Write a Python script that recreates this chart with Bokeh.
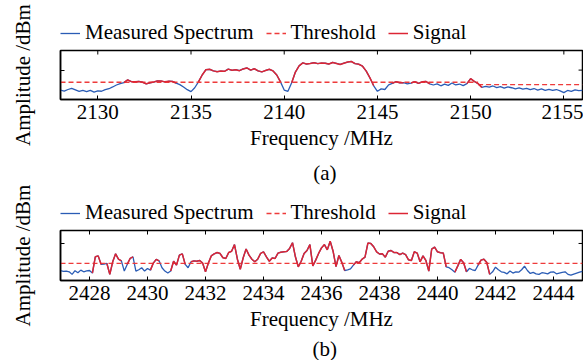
import math
import numpy as np
from bokeh.plotting import figure
from bokeh.models import (Legend, LegendItem, FixedTicker, Range1d, Label)
from bokeh.layouts import column, row
from bokeh.embed import file_html
from bokeh.resources import INLINE

FONT = "Liberation Serif"
FS = "21px"
BLUE = "#2a5cb5"
RED = "#dc2534"
THR_RED = "#ee3b3b"
TICK_LEN = 4
LABEL_W = 40          # width of the strip holding the y labels
MAIN_W = 543          # width of the right-hand column
MAIN_LEFT = 12        # left border of the main figures
FRAME_W = MAIN_W - MAIN_LEFT - 1
TOTAL_H = 360

# ---------------- panel (a) data ----------------
freq_a_limits = (2128.0, 2156.0)
spec_a = [
    -90.2, -90.7, -89.9, -89.3, -90.1, -90.9, -90.4, -91.0, -90.3, -91.2, -90.6, -90.8, -90.0,
    -89.5, -88.6, -87.6, -86.9, -86.4, -85.0, -85.9, -86.0,
    -85.8, -86.2, -87.0, -86.5, -86.1, -85.5, -85.6, -86.0, -85.7, -85.8,
    -86.6, -87.4, -88.6, -90.0, -91.0, -89.0, -86.0, -82.5, -79.8, -79.6,
    -80.4, -80.8, -80.5, -80.6, -79.5, -80.1, -79.8, -80.3, -79.4, -78.9,
    -80.0, -79.3, -80.4, -80.9, -80.2, -79.6, -80.4, -82.5, -86.0, -90.2,
    -90.8, -86.5, -81.0, -77.8, -76.3, -76.9, -76.6, -76.2, -76.7, -76.4,
    -76.5, -76.9, -76.1, -76.6, -77.1, -76.5, -75.9, -75.6, -76.7, -77.0,
    -78.0, -80.5, -84.0, -88.0, -90.8, -89.6, -89.9, -87.5, -86.8, -85.9,
    -86.5, -86.4, -87.0, -86.6, -85.9, -86.8, -86.0, -85.8, -87.0, -87.6,
    -87.0, -88.0, -87.2, -87.8, -86.6, -87.6, -87.1, -87.9, -86.9, -84.4,
    -85.8, -86.9, -88.8, -88.3, -88.7, -88.1, -88.9, -88.4, -89.2, -88.6,
    -89.0, -89.6, -89.1, -89.7, -89.3, -90.0, -89.4, -90.2, -89.6, -90.3,
    -89.8, -90.4, -89.9, -90.6, -91.5, -90.4, -90.9, -90.1, -90.5, -90.3,
]
thr_a_freq = [[2128.0, 2150.4], [2150.4, 2156.0]]
thr_a_val = [[-86.2, -86.2], [-87.4, -87.4]]
signal_a = [(2131.4, 2134.2), (2135.4, 2139.8), (2140.4, 2144.8),
            (2145.8, 2146.4), (2146.8, 2147.8), (2149.8, 2150.6)]
xticks_a = [2130, 2135, 2140, 2145, 2150, 2155]
yrange_a = (-95.0, -70.0)
yticks_a = [-80.0]

# ---------------- panel (b) data ----------------
freq_b_limits = (2427.0, 2445.0)
spec_b = [
    -94.7, -95.1, -94.9, -95.3, -96.7, -94.7, -95.8, -94.4, -95.3, -94.8, -94.6,
    -96.0, -87.2, -86.7, -91.3, -91.1, -90.8, -96.7, -89.9, -85.6, -88.5,
    -89.4, -94.9, -91.3, -88.1, -87.2, -94.9, -94.2, -93.1, -94.9, -93.5,
    -94.4, -90.6, -88.6, -89.4, -93.1, -94.9, -96.0, -94.9, -89.6, -91.7,
    -86.3, -85.6, -91.3, -93.1, -89.9, -89.4, -89.6, -89.2, -90.6, -95.3,
    -90.6, -86.7, -85.6, -84.9, -85.4, -87.7, -88.1, -84.9, -84.2, -80.6,
    -88.5, -93.9, -87.7, -83.0, -86.3, -88.5, -89.9, -88.5, -85.4, -84.5,
    -87.2, -89.6, -87.8, -88.1, -85.2, -84.7, -84.5, -84.3, -82.7, -79.6,
    -87.2, -92.6, -89.6, -85.4, -83.8, -80.6, -92.1, -89.0, -85.4, -82.4,
    -80.6, -83.4, -78.8, -84.2, -92.5, -86.5, -90.2, -94.6, -94.2, -93.7,
    -91.7, -89.9, -90.4, -88.5, -87.4, -79.8, -80.0, -81.8, -84.5, -85.7,
    -85.6, -87.4, -84.2, -83.8, -84.9, -84.9, -86.0, -85.2, -86.0, -88.8,
    -89.2, -84.5, -85.2, -89.9, -86.7, -89.2, -94.9, -83.0, -82.0, -84.5,
    -85.0, -85.2, -92.6, -93.1, -94.2, -95.5, -92.1, -88.6, -90.4, -95.3,
    -93.5, -94.2, -94.6, -91.7, -89.0, -88.5, -90.3, -96.7, -95.3, -92.8,
    -94.2, -95.3, -95.6, -96.4, -94.9, -96.0, -95.3, -95.5, -94.2, -92.3,
    -94.6, -96.2, -95.6, -96.4, -96.7, -95.8, -96.0, -96.4, -95.5, -95.3,
    -96.4, -96.0, -95.6, -95.3, -96.7, -97.1, -96.5, -96.0, -95.5, -95.1,
]
thr_b_freq = [[2427.0, 2445.0]]
thr_b_val = [[-90.8, -90.8]]
signal_b = [(2428.1, 2428.4), (2428.6, 2429.1), (2429.3, 2429.5), (2430.1, 2430.4),
            (2430.8, 2431.3), (2431.5, 2436.8), (2437.1, 2440.3), (2440.6, 2441.0),
            (2441.4, 2441.8)]
xticks_b = [2428, 2430, 2432, 2434, 2436, 2438, 2440, 2442, 2444]
yrange_b = (-100.0, -73.0)
yticks_b = [-80.0]

X_LABEL = "Frequency /MHz"
Y_LABEL = "Amplitude /dBm"
LEGEND_LABELS = ["Measured Spectrum", "Threshold", "Signal"]
CAPTIONS = ["(a)", "(b)"]
NAN = float("nan")


def blank_fig(w, h, **kw):
    f = figure(width=w, height=h, x_range=Range1d(0, w), y_range=Range1d(0, h),
               x_axis_type=None, y_axis_type=None, output_backend="svg",
               toolbar_location=None, min_border_left=kw.get("left", 0),
               min_border_right=0, min_border_top=0, min_border_bottom=kw.get("bottom", 0))
    f.outline_line_color = None
    f.grid.visible = False
    return f


def style_axis(ax, ticks):
    ax.ticker = FixedTicker(ticks=ticks)
    ax.major_tick_in = TICK_LEN
    ax.major_tick_out = 0
    ax.minor_tick_in = 0
    ax.minor_tick_out = 0
    ax.major_tick_line_color = "black"
    ax.major_tick_line_width = 1
    ax.minor_tick_line_color = None
    ax.axis_line_color = "black"
    ax.axis_line_width = 1.5
    ax.major_label_text_font = FONT
    ax.major_label_text_font_size = FS
    ax.major_label_text_color = "black"
    ax.axis_label_text_font = FONT
    ax.axis_label_text_font_size = FS
    ax.axis_label_text_font_style = "normal"
    ax.axis_label_text_color = "black"


def legend_strip(h):
    f = blank_fig(MAIN_W, h, left=20, bottom=3)
    # legend-only renderers (a single NaN point each, so nothing is drawn in the strip)
    r1 = f.line(x=[NAN], y=[NAN], line_color=BLUE, line_width=1.3)
    r2 = f.line(x=[NAN], y=[NAN], line_color=THR_RED, line_width=1.3, line_dash="5 3")
    r3 = f.line(x=[NAN], y=[NAN], line_color=RED, line_width=1.5)
    leg = Legend(items=[LegendItem(label=LEGEND_LABELS[0], renderers=[r1]),
                        LegendItem(label=LEGEND_LABELS[1], renderers=[r2]),
                        LegendItem(label=LEGEND_LABELS[2], renderers=[r3])],
                 orientation="horizontal", location="bottom_left", margin=0, padding=0,
                 spacing=12, label_standoff=5, glyph_width=20,
                 border_line_color=None, background_fill_alpha=0,
                 label_text_font=FONT, label_text_font_size=FS, label_text_color="black")
    f.add_layout(leg, "center")
    return f


def caption_strip(h, text, y_center):
    f = blank_fig(MAIN_W, h)
    f.add_layout(Label(x=52 + FRAME_W / 2 - LABEL_W - 2, y=y_center, text=text,
                       text_align="center", text_baseline="middle", text_font=FONT,
                       text_font_size=FS, text_color="black"))
    return f


def main_panel(freq_limits, spec, thr_f, thr_v, sig_ranges, yrange, xticks, yticks, h, fh):
    freq = np.linspace(freq_limits[0], freq_limits[1], len(spec))
    spec = np.array(spec)
    top = 2
    p = figure(width=MAIN_W, height=h,
               x_range=Range1d(*freq_limits), y_range=Range1d(*yrange),
               output_backend="svg", toolbar_location=None,
               min_border_left=MAIN_LEFT, min_border_right=1, min_border_top=top,
               min_border_bottom=h - top - fh, x_axis_label=X_LABEL)
    p.grid.visible = False
    p.outline_line_color = "black"
    p.outline_line_width = 1.5

    style_axis(p.xaxis[0], xticks)
    p.xaxis[0].major_label_standoff = 5
    p.xaxis[0].axis_label_standoff = 4
    style_axis(p.yaxis[0], yticks)
    p.yaxis[0].major_label_overrides = {t: "" for t in yticks}
    p.yaxis[0].major_label_standoff = 0

    # mirrored inward ticks on the top and right frame edges
    dx = (freq_limits[1] - freq_limits[0]) / FRAME_W
    dy = (yrange[1] - yrange[0]) / fh
    p.segment(x0=xticks, x1=xticks, y0=[yrange[1]] * len(xticks),
              y1=[yrange[1] - TICK_LEN * dy] * len(xticks), line_color="black", line_width=1)
    p.segment(x0=[freq_limits[1]] * len(yticks),
              x1=[freq_limits[1] - TICK_LEN * dx] * len(yticks),
              y0=yticks, y1=yticks, line_color="black", line_width=1)

    p.line(freq, spec, line_color=BLUE, line_width=1.3)
    p.multi_line(thr_f, thr_v, line_color=THR_RED, line_width=1.3, line_dash="5 3")
    xs, ys = [], []
    for s, e in sig_ranges:
        m = (freq >= s - 1e-6) & (freq <= e + 1e-6)
        xs.append(list(freq[m]))
        ys.append(list(spec[m]))
    p.multi_line(xs, ys, line_color=RED, line_width=1.5)
    return p


# y-label strip covering the full height
ylab = blank_fig(LABEL_W, TOTAL_H)
for yc in (TOTAL_H - 74.5, TOTAL_H - 255):
    ylab.add_layout(Label(x=22, y=yc, text=Y_LABEL, angle=math.pi / 2,
                          text_align="center", text_baseline="middle", text_font=FONT,
                          text_font_size=FS, text_color="black"))

leg_a = legend_strip(48)
main_a = main_panel(freq_a_limits, spec_a, thr_a_freq, thr_a_val, signal_a, yrange_a,
                    xticks_a, yticks_a, 108, 49)
cap_a = caption_strip(32, CAPTIONS[0], 16)
leg_b = legend_strip(40)
main_b = main_panel(freq_b_limits, spec_b, thr_b_freq, thr_b_val, signal_b, yrange_b,
                    xticks_b, yticks_b, 108, 50)
cap_b = caption_strip(24, CAPTIONS[1], 12)

layout = row(ylab, column(leg_a, main_a, cap_a, leg_b, main_b, cap_b, spacing=0), spacing=0)
open("out.html", "w").write(file_html(layout, INLINE))
